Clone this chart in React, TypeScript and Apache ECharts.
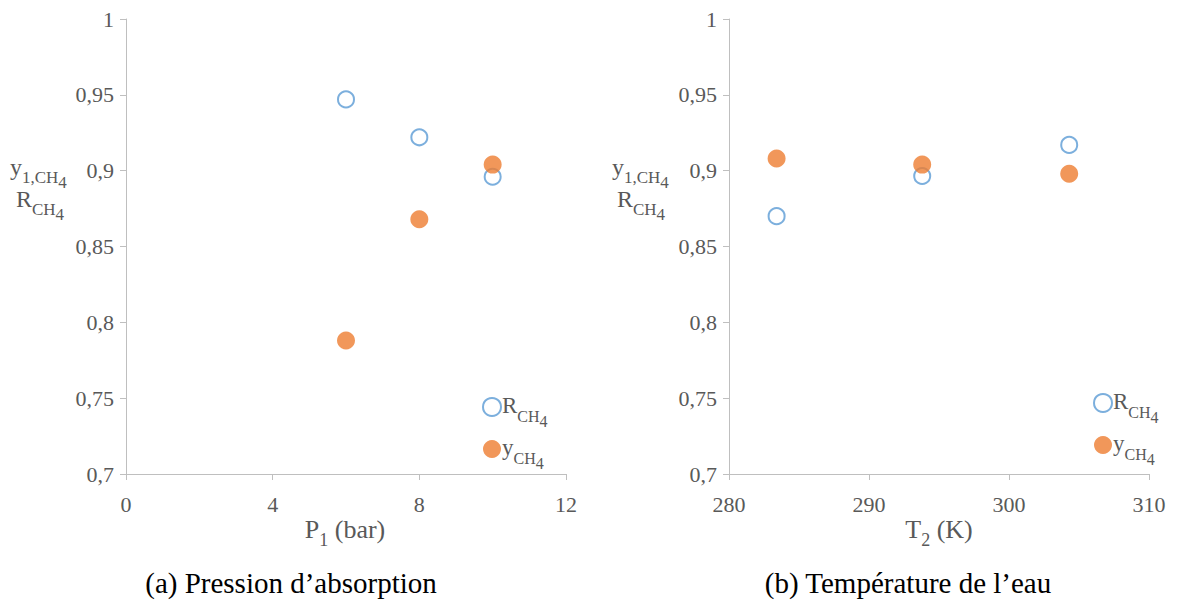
import React, { useEffect, useRef } from "react";
import * as echarts from "echarts";

const pressure = [6, 8, 10];
const rPressure = [0.947, 0.922, 0.896];
const yPressure = [0.788, 0.868, 0.904];

const temperature = [283.4, 293.8, 304.3];
const rTemperature = [0.87, 0.8965, 0.917];
const yTemperature = [0.908, 0.904, 0.898];

const yTicksMin = 0.7;
const yTicksMax = 1;
const yTickStep = 0.05;

const SERIF = "'Liberation Serif', 'Times New Roman', serif";
const GRAY = "#595959";
const BLUE = "#5b9bd5";
const ORANGE = "#ed7d31";

const makeRich = (main: number, sub: number, off: number) => ({
  m: { fontFamily: SERIF, fontSize: main, color: GRAY, lineHeight: main + 3, verticalAlign: "top" },
  s: { fontFamily: SERIF, fontSize: sub, color: GRAY, lineHeight: sub, padding: [off, 0, 0, 0], verticalAlign: "top" },
  ss: { fontFamily: SERIF, fontSize: sub, color: GRAY, lineHeight: sub, padding: [off + 5, 0, 0, 0], verticalAlign: "top" },
});
const rich = makeRich(23, 16, 14);
const richY = makeRich(24, 17, 14);
const richX = makeRich(26, 18, 15);

export default function App() {
  const ref = useRef<HTMLDivElement>(null);
  useEffect(() => {
    if (!ref.current) return;
    const chart = echarts.init(ref.current, undefined, { renderer: "svg" });
    const yAxisBase = (gridIndex: number) => ({
      type: "value",
      gridIndex,
      min: yTicksMin,
      max: yTicksMax,
      interval: yTickStep,
      axisLine: { show: true, lineStyle: { color: "#bfbfbf", width: 1 } },
      axisTick: { show: true, length: 6, lineStyle: { color: "#bfbfbf" } },
      splitLine: { show: false },
      axisLabel: {
        fontFamily: SERIF,
        fontSize: 22,
        color: GRAY,
        margin: 12,
        formatter: (v: number) => String(Math.round(v * 100) / 100).replace(".", ","),
      },
    });
    const xAxisBase = (gridIndex: number, min: number, max: number, interval: number) => ({
      type: "value",
      gridIndex,
      min,
      max,
      interval,
      axisLine: { show: true, onZero: false, lineStyle: { color: "#bfbfbf", width: 1 } },
      axisTick: { show: true, length: 6, lineStyle: { color: "#bfbfbf" } },
      splitLine: { show: false },
      axisLabel: { fontFamily: SERIF, fontSize: 22, color: GRAY, margin: 19 },
    });
    const hollow = { color: "#ffffff", borderColor: BLUE, borderWidth: 2 };
    const filled = { color: ORANGE };
    const legendBase = {
      orient: "vertical",
      itemWidth: 18,
      itemHeight: 18,
      itemGap: 7,
      icon: "circle",
      textStyle: { rich, padding: [0, 0, 0, -4] },
      formatter: (name: string) =>
        name === "R" ? "{m|R}{s|CH}{ss|4}" : "{m|y}{s|CH}{ss|4}",
    };
    const labelText = (x: number, y: number, text: string, r: object, align = "left") => ({
      type: "text",
      x,
      y,
      style: { text, rich: r, fill: GRAY, align },
    });
    chart.setOption({
      animation: false,
      grid: [
        { left: 126, top: 19, width: 440, height: 455 },
        { left: 729, top: 19, width: 420, height: 455 },
      ],
      xAxis: [xAxisBase(0, 0, 12, 4), xAxisBase(1, 280, 310, 10)],
      yAxis: [yAxisBase(0), yAxisBase(1)],
      legend: [
        { ...legendBase, left: 477, top: 389, data: ["R", "y"] },
        { ...legendBase, left: 1088, top: 385, data: ["R", "y"] },
      ],
      series: [
        {
          name: "R",
          type: "scatter",
          xAxisIndex: 0,
          yAxisIndex: 0,
          symbolSize: 16,
          itemStyle: hollow,
          data: pressure.map((p, i) => [p, rPressure[i]]),
        },
        {
          name: "y",
          type: "scatter",
          xAxisIndex: 0,
          yAxisIndex: 0,
          symbolSize: 18,
          itemStyle: filled,
          data: pressure.map((p, i) => [p, yPressure[i]]),
        },
        {
          name: "R",
          type: "scatter",
          xAxisIndex: 1,
          yAxisIndex: 1,
          symbolSize: 16,
          itemStyle: hollow,
          data: temperature.map((t, i) => [t, rTemperature[i]]),
        },
        {
          name: "y",
          type: "scatter",
          xAxisIndex: 1,
          yAxisIndex: 1,
          symbolSize: 18,
          itemStyle: filled,
          data: temperature.map((t, i) => [t, yTemperature[i]]),
        },
      ],
      graphic: [
        labelText(10, 155, "{m|y}{s|1,CH}{ss|4}", richY),
        labelText(16, 187, "{m|R}{s|CH}{ss|4}", richY),
        labelText(612, 155, "{m|y}{s|1,CH}{ss|4}", richY),
        labelText(617, 187, "{m|R}{s|CH}{ss|4}", richY),
        labelText(345, 516, "{m|P}{s|1}{m| (bar)}", richX, "center"),
        labelText(939, 516, "{m|T}{s|2}{m| (K)}", richX, "center"),
        {
          type: "text",
          x: 291,
          y: 583,
          style: {
            text: "(a) Pression d\u2019absorption",
            font: "29px " + SERIF,
            fill: "#000000",
            align: "center",
            verticalAlign: "middle",
          },
        },
        {
          type: "text",
          x: 908,
          y: 583,
          style: {
            text: "(b) Temp\u00e9rature de l\u2019eau",
            font: "29px " + SERIF,
            fill: "#000000",
            align: "center",
            verticalAlign: "middle",
          },
        },
      ],
    });
    return () => chart.dispose();
  }, []);
  return (
    <div style={{ position: "fixed", left: 0, top: 0, width: 1195, height: 605, background: "#fff" }}>
      <div ref={ref} style={{ width: 1195, height: 605 }} />
    </div>
  );
}
